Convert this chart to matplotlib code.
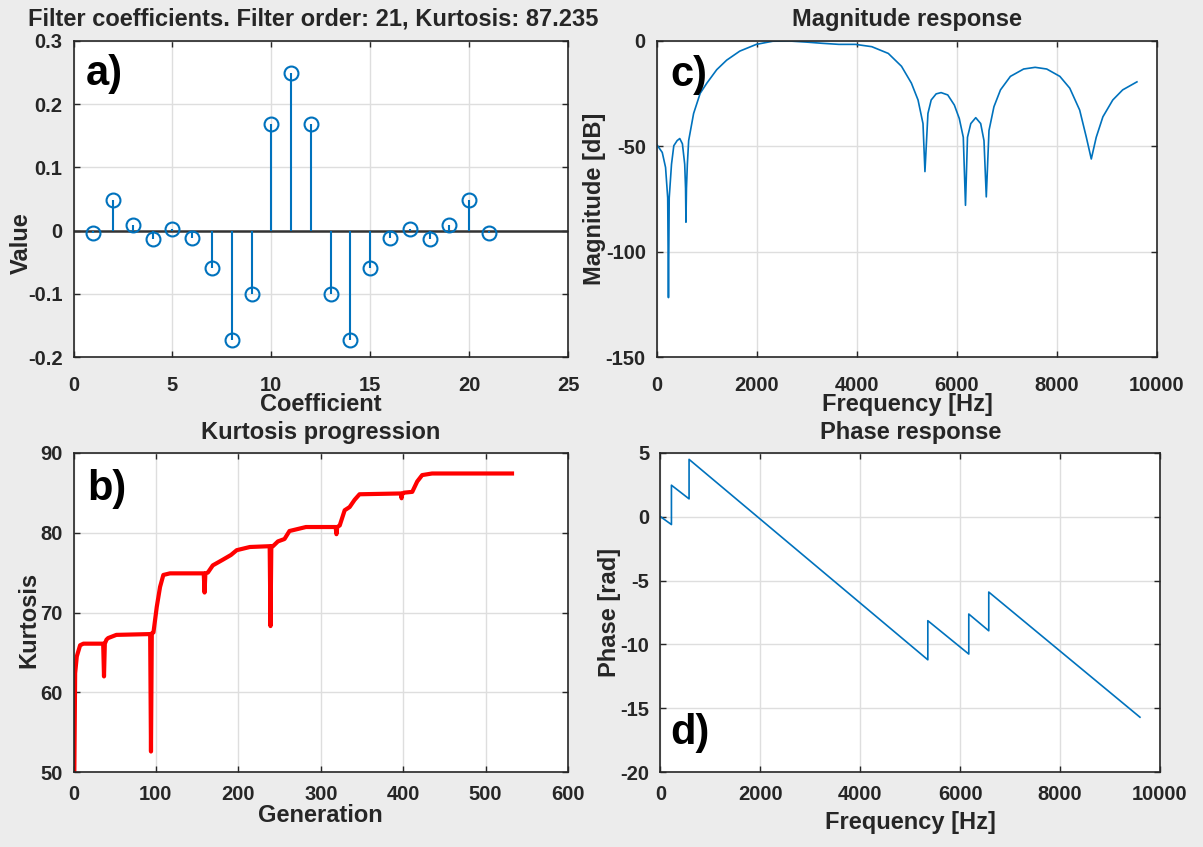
import matplotlib
matplotlib.use("Agg")
import matplotlib.pyplot as plt
import numpy as np

# filter coefficients (panel a)
coef_idx = list(range(1, 22))
coef_vals = [-0.003, 0.048, 0.009, -0.014, 0.003, -0.011, -0.059, -0.173, -0.100, 0.169, 0.250,
             0.169, -0.100, -0.173, -0.059, -0.011, 0.003, -0.014, 0.009, 0.048, -0.003]

# kurtosis progression (panel b)
kurt_gen = [1, 2, 4, 8, 12, 36, 37, 38, 40, 42, 52, 93, 94, 95, 97, 101, 105, 109, 117,
            158, 159, 160, 163, 169, 181, 191, 198, 214, 238, 239, 240, 242, 248, 256, 262,
            274, 282, 318, 319, 320, 323, 329, 335, 341, 347, 397, 398, 399, 401, 411, 417,
            423, 435, 532]
kurt_val = [50.0, 62.4, 64.5, 65.9, 66.1, 66.1, 62.0, 66.1, 66.6, 66.8, 67.2, 67.3, 52.6, 67.4,
            67.5, 70.7, 73.2, 74.7, 74.9, 74.9, 72.5, 74.9, 75.0, 75.9, 76.6, 77.2, 77.8, 78.2,
            78.3, 68.3, 78.3, 78.3, 78.9, 79.2, 80.2, 80.5, 80.7, 80.7, 79.8, 80.7, 80.9, 82.8,
            83.2, 84.1, 84.8, 84.9, 84.3, 84.9, 85.0, 85.1, 86.4, 87.2, 87.4, 87.4]

# magnitude response (panel c)
mag_freq = [0, 106, 172, 215, 230, 245, 291, 337, 403, 456,
            509, 555, 572, 580, 590, 608, 634, 733, 865, 998,
            1196, 1394, 1657, 1988, 2317, 2647, 2978, 3307, 3638, 3968,
            4297, 4627, 4891, 5089, 5222, 5321, 5360, 5420, 5485, 5584,
            5683, 5816, 5948, 6047, 6127, 6171, 6211, 6277, 6376, 6475,
            6541, 6587, 6641, 6740, 6871, 7069, 7334, 7564, 7796, 8059,
            8257, 8455, 8588, 8687, 8786, 8919, 9117, 9315, 9600]
mag_db = [-49.3, -52.9, -60.0, -74.5, -121.8, -74.5, -58.5, -49.7, -47.3, -46.3,
          -48.8, -58.5, -70.0, -86.0, -70.0, -58.5, -47.3, -34.4, -24.8, -20.0,
          -13.6, -9.1, -4.8, -1.6, -0.1, 0.0, -0.5, -1.1, -1.6, -1.6,
          -2.7, -5.9, -12.0, -20.0, -28.0, -39.2, -62.0, -34.4, -28.0, -25.1,
          -24.5, -25.6, -30.4, -36.8, -45.7, -78.0, -45.7, -39.2, -36.4, -39.2,
          -47.3, -74.0, -42.5, -31.2, -23.2, -16.8, -13.3, -12.5, -13.3, -16.8,
          -22.4, -32.8, -45.7, -56.0, -45.7, -36.0, -28.0, -23.2, -19.4]

# phase response (panel d)
ph_freq = [0, 220, 220, 573, 573, 5353, 5353, 6173, 6173, 6573, 6573, 9600]
ph_val = [0.0, -0.62, 2.46, 1.39, 4.48, -11.2, -8.14, -10.75, -7.62, -8.93, -5.9, -15.69]

blue = '#0072BD'
dark = '#262626'

plt.rcParams['font.family'] = ['Liberation Sans', 'DejaVu Sans']
plt.rcParams['font.weight'] = 'bold'
plt.rcParams['axes.labelweight'] = 'bold'
plt.rcParams['axes.titleweight'] = 'bold'
plt.rcParams['axes.unicode_minus'] = False

fig = plt.figure(figsize=(12.03, 8.47), dpi=100, facecolor='#ececec')
ax_a = fig.add_axes([0.0611, 0.5785, 0.4111, 0.3731])
ax_b = fig.add_axes([0.0611, 0.0882, 0.4111, 0.3773])
ax_c = fig.add_axes([0.5461, 0.5785, 0.4156, 0.3731])
ax_d = fig.add_axes([0.5490, 0.0882, 0.4152, 0.3773])


def style(ax, xpad):
    ax.set_facecolor('white')
    ax.grid(True, color='#dedede', lw=1)
    ax.set_axisbelow(True)
    ax.tick_params(direction='in', top=True, right=True, length=4, width=1,
                   colors=dark, labelsize=14.5)
    ax.tick_params(axis='x', pad=xpad)
    ax.tick_params(axis='y', pad=8)
    for lab in ax.get_xticklabels() + ax.get_yticklabels():
        lab.set_fontweight('bold')
    for sp in ax.spines.values():
        sp.set_color(dark)
        sp.set_linewidth(1.2)


# a) stem plot
markerline, stemlines, baseline = ax_a.stem(coef_idx, coef_vals)
markerline.set_color(blue)
markerline.set_markerfacecolor('none')
markerline.set_markersize(10)
markerline.set_markeredgewidth(1.5)
stemlines.set_color(blue)
stemlines.set_linewidth(1.5)
baseline.set_visible(False)
ax_a.axhline(0, color='#333333', lw=1.8, zorder=1.5)
ax_a.set_xlim(0, 25)
ax_a.set_ylim(-0.2, 0.3)
ax_a.set_xticks([0, 5, 10, 15, 20, 25])
ax_a.set_yticks([-0.2, -0.1, 0, 0.1, 0.2, 0.3])
ax_a.set_yticklabels(['-0.2', '-0.1', '0', '0.1', '0.2', '0.3'])
style(ax_a, 13.5)
ax_a.set_title('Filter coefficients. Filter order: 21, Kurtosis: 87.235', fontsize=17,
               color=dark, pad=11, x=0.485)
ax_a.set_xlabel('Coefficient', fontsize=17, color=dark)
ax_a.set_ylabel('Value', fontsize=17, color=dark)
ax_a.xaxis.set_label_coords(0.5, -0.113)
ax_a.yaxis.set_label_coords(-0.082, 0.36)
ax_a.text(0.025, 0.96, 'a)', transform=ax_a.transAxes, fontsize=30, fontweight='bold',
          va='top', ha='left', color='black')

# b) kurtosis progression
ax_b.plot(kurt_gen, kurt_val, color='red', lw=3)
ax_b.set_xlim(0, 600)
ax_b.set_ylim(50, 90)
ax_b.set_xticks([0, 100, 200, 300, 400, 500, 600])
ax_b.set_yticks([50, 60, 70, 80, 90])
style(ax_b, 9)
ax_b.set_title('Kurtosis progression', fontsize=17, color=dark, pad=10)
ax_b.set_xlabel('Generation', fontsize=17, color=dark)
ax_b.set_ylabel('Kurtosis', fontsize=17, color=dark)
ax_b.xaxis.set_label_coords(0.5, -0.098)
ax_b.yaxis.set_label_coords(-0.067, 0.477)
ax_b.text(0.027, 0.95, 'b)', transform=ax_b.transAxes, fontsize=30, fontweight='bold',
          va='top', ha='left', color='black')

# c) magnitude response
ax_c.plot(mag_freq, mag_db, color=blue, lw=1.2)
ax_c.set_xlim(0, 10000)
ax_c.set_ylim(-150, 0)
ax_c.set_xticks([0, 2000, 4000, 6000, 8000, 10000])
ax_c.set_yticks([-150, -100, -50, 0])
style(ax_c, 13.5)
ax_c.set_title('Magnitude response', fontsize=17, color=dark, pad=11)
ax_c.set_xlabel('Frequency [Hz]', fontsize=17, color=dark)
ax_c.set_ylabel('Magnitude [dB]', fontsize=17, color=dark)
ax_c.xaxis.set_label_coords(0.5, -0.113)
ax_c.yaxis.set_label_coords(-0.102, 0.5)
ax_c.text(0.026, 0.955, 'c)', transform=ax_c.transAxes, fontsize=30, fontweight='bold',
          va='top', ha='left', color='black')

# d) phase response
ax_d.plot(ph_freq, ph_val, color=blue, lw=1.2)
ax_d.set_xlim(0, 10000)
ax_d.set_ylim(-20, 5)
ax_d.set_xticks([0, 2000, 4000, 6000, 8000, 10000])
ax_d.set_yticks([-20, -15, -10, -5, 0, 5])
style(ax_d, 9)
ax_d.set_title('Phase response', fontsize=17, color=dark, pad=10)
ax_d.set_xlabel('Frequency [Hz]', fontsize=17, color=dark)
ax_d.set_ylabel('Phase [rad]', fontsize=17, color=dark)
ax_d.xaxis.set_label_coords(0.5, -0.12)
ax_d.yaxis.set_label_coords(-0.079, 0.5)
ax_d.text(0.02, 0.06, 'd)', transform=ax_d.transAxes, fontsize=30, fontweight='bold',
          va='bottom', ha='left', color='black')

fig.savefig('out.png', dpi=100, facecolor=fig.get_facecolor())
